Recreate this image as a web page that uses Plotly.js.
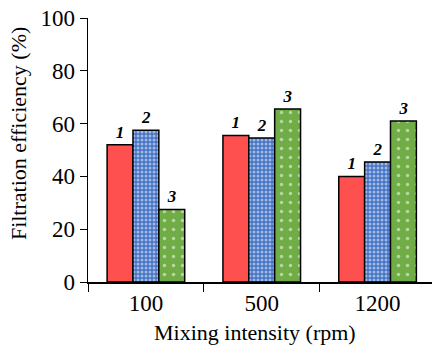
<!DOCTYPE html>
<html>
<head>
<meta charset="utf-8">
<script src="https://cdn.plot.ly/plotly-3.0.1.min.js"></script>
<style>html,body{margin:0;padding:0;background:#fff;}#chart{width:432px;height:347px;}</style>
</head>
<body>
<div id="chart"></div>
<script>
const categories = ["100", "500", "1200"];
const seriesNames = ["1", "2", "3"];
const series1 = [52, 55.5, 40];
const series2 = [57.5, 54.5, 45.5];
const series3 = [27.5, 65.5, 61];
const yTicks = [0, 20, 40, 60, 80, 100];
const xTitle = "Mixing intensity (rpm)";
const yTitle = "Filtration efficiency (%)";

const fontFam = "Liberation Serif";
const labelFont = {family: fontFam, size: 17, color: "#000", weight: "bold", style: "italic"};

function bar(vals, name, color, pattern) {
  return {
    type: "bar",
    x: categories,
    y: vals,
    name: name,
    text: vals.map(() => name),
    texttemplate: "%{text}",
    textposition: "outside",
    textfont: labelFont,
    cliponaxis: false,
    marker: {color: color, line: {color: "#000", width: 1.5}, pattern: pattern},
    hoverinfo: "y"
  };
}

const data = [
  bar(series1, seriesNames[0], "#FF5050", {shape: ""}),
  bar(series2, seriesNames[1], "#4472C4", {shape: ".", fgcolor: "#ffffff", bgcolor: "#4472C4", size: 4, solidity: 0.45, fillmode: "overlay"}),
  bar(series3, seriesNames[2], "#70AD47", {shape: ".", fgcolor: "#ffffff", bgcolor: "#70AD47", size: 9, solidity: 0.12, fillmode: "overlay"})
];

const layout = {
  width: 432, height: 347,
  margin: {l: 88, r: 0, t: 18, b: 65},
  paper_bgcolor: "#fff", plot_bgcolor: "#fff",
  barmode: "group", bargap: 0.33, bargroupgap: 0,
  showlegend: false,
  font: {family: fontFam, size: 20, color: "#000"},
  xaxis: {
    type: "category",
    range: [-0.5, 2.47],
    automargin: false,
    showline: true, linecolor: "#000", linewidth: 1.5,
    ticks: "outside", tickson: "boundaries", ticklen: 8, tickcolor: "#000", tickwidth: 1,
    tickfont: {family: fontFam, size: 23, color: "#000"},
    showgrid: false, zeroline: false
  },
  yaxis: {
    range: [0, 100],
    automargin: false,
    tickvals: yTicks,
    ticktext: yTicks.map(String),
    showline: true, linecolor: "#000", linewidth: 1.5,
    ticks: "outside", ticklen: 7, tickcolor: "#000", tickwidth: 1,
    tickfont: {family: fontFam, size: 23, color: "#000"},
    showgrid: false, zeroline: false
  },
  annotations: [
    {text: xTitle, xref: "paper", yref: "paper", x: 0.485, y: -0.193, xanchor: "center", yanchor: "middle",
     showarrow: false, font: {family: fontFam, size: 22, color: "#000"}},
    {text: yTitle, xref: "paper", yref: "paper", x: -0.2035, y: 0.564, xanchor: "center", yanchor: "middle",
     textangle: -90, showarrow: false, font: {family: fontFam, size: 22, color: "#000"}}
  ]
};

Plotly.newPlot("chart", data, layout, {displayModeBar: false, staticPlot: true});
</script>
</body>
</html>
